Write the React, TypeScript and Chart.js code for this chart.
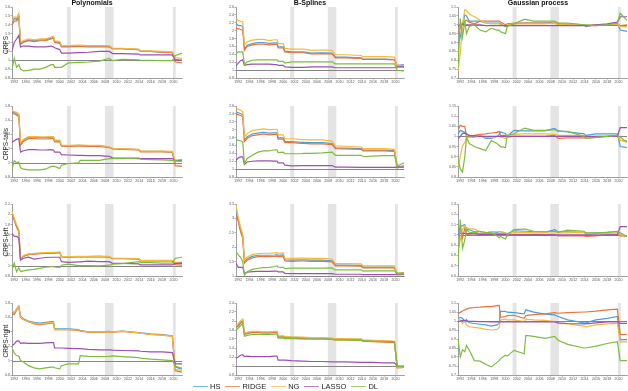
import React, { useEffect, useRef } from "react";
import { Chart, registerables } from "chart.js";
Chart.register(...registerables);

// ---------- shared axes data ----------
const years = [1991.6, 1992.0, 1992.4, 1992.8, 1993.1, 1993.6, 1994.5, 1995.5, 1996.5, 1997.5, 1998.5, 1998.9, 1999.1, 2000.0, 2000.3, 2001.5, 2003.3, 2003.6, 2005, 2007, 2008.7, 2009.3, 2011, 2013.9, 2014.2, 2016, 2018, 2019.8, 2020.3, 2021.5];
const xTickYears = [1992, 1994, 1996, 1998, 2000, 2002, 2004, 2006, 2008, 2010, 2012, 2014, 2016, 2018, 2020];
const recessions = [[2001.25, 2001.95], [2007.95, 2009.45], [2019.9, 2020.4]];
const seriesNames = ["HS", "RIDGE", "NG", "LASSO", "DL"];
const seriesColors = ["#4a9fd8", "#e8733e", "#f1bb3c", "#9b51b0", "#7dbd3e"];
const methods = ["Polynomials", "B-Splines", "Gaussian process"];
const metrics = ["CRPS", "CRPS-tails", "CRPS-left", "CRPS-right"];

// ---------- y tick labels ----------
const yTicksPolyCrps = [0.8, 0.9, 1, 1.1, 1.2, 1.3, 1.4, 1.5, 1.6];
const yTicksSplCrps = [0.8, 1, 1.2, 1.4, 1.6, 1.8, 2, 2.2, 2.4, 2.6];
const yTicksGpCrps = [0.7, 0.75, 0.8, 0.85, 0.9, 0.95, 1, 1.05, 1.1];
const yTicksPolyTails = [0.8, 1, 1.2, 1.4, 1.6, 1.8];
const yTicksSplTails = [0.8, 1, 1.2, 1.4, 1.6, 1.8, 2, 2.2, 2.4, 2.6];
const yTicksGpTails = [0.8, 0.85, 0.9, 0.95, 1, 1.05, 1.1, 1.15];
const yTicksPolyLeft = [0.8, 1, 1.2, 1.4, 1.6, 1.8, 2, 2.2];
const yTicksSplLeft = [1, 1.5, 2, 2.5, 3, 3.5];
const yTicksGpLeft = [0.6, 0.7, 0.8, 0.9, 1, 1.1, 1.2, 1.3];
const yTicksPolyRight = [0.8, 1, 1.2, 1.4, 1.6, 1.8];
const yTicksSplRight = [0.8, 1, 1.2, 1.4, 1.6, 1.8, 2, 2.2, 2.4];
const yTicksGpRight = [0.7, 0.75, 0.8, 0.85, 0.9, 0.95, 1, 1.05, 1.1];

// ---------- CRPS ----------
const polyCrpsHS = [1.42, 1.47, 1.46, 1.50, 1.19, 1.21, 1.23, 1.22, 1.23, 1.23, 1.25, 1.26, 1.21, 1.20, 1.16, 1.16, 1.16, 1.16, 1.16, 1.16, 1.16, 1.13, 1.13, 1.12, 1.10, 1.10, 1.09, 1.09, 1.01, 1.00];
const polyCrpsRidge = [1.40, 1.44, 1.44, 1.48, 1.18, 1.20, 1.22, 1.21, 1.22, 1.22, 1.24, 1.25, 1.20, 1.19, 1.15, 1.15, 1.155, 1.155, 1.15, 1.15, 1.15, 1.13, 1.13, 1.12, 1.10, 1.10, 1.09, 1.085, 0.98, 0.97];
const polyCrpsNG = [1.44, 1.49, 1.48, 1.53, 1.20, 1.22, 1.24, 1.23, 1.24, 1.24, 1.26, 1.27, 1.22, 1.21, 1.165, 1.165, 1.17, 1.17, 1.165, 1.165, 1.165, 1.135, 1.135, 1.125, 1.105, 1.105, 1.10, 1.095, 1.03, 1.02];
const polyCrpsLasso = [1.11, 1.20, 1.24, 1.28, 1.15, 1.16, 1.16, 1.15, 1.15, 1.15, 1.16, 1.15, 1.14, 1.12, 1.08, 1.08, 1.085, 1.085, 1.09, 1.10, 1.10, 1.075, 1.075, 1.07, 1.06, 1.06, 1.06, 1.06, 1.0, 1.0];
const polyCrpsDL = [0.90, 1.02, 0.92, 0.95, 0.90, 0.88, 0.885, 0.90, 0.90, 0.92, 0.95, 0.95, 0.92, 0.92, 0.92, 0.97, 0.975, 0.975, 0.98, 0.99, 1.02, 0.995, 1.01, 1.005, 1.0, 1.0, 0.995, 0.995, 1.05, 1.08];

const splCrpsHS = [2.18, 2.13, 2.13, 2.11, 1.54, 1.63, 1.67, 1.70, 1.70, 1.68, 1.69, 1.69, 1.59, 1.59, 1.48, 1.46, 1.46, 1.46, 1.43, 1.44, 1.43, 1.33, 1.33, 1.31, 1.28, 1.28, 1.28, 1.27, 1.12, 1.14];
const splCrpsRidge = [2.05, 2.05, 2.03, 2.01, 1.50, 1.60, 1.64, 1.66, 1.66, 1.64, 1.65, 1.65, 1.56, 1.56, 1.46, 1.44, 1.44, 1.44, 1.41, 1.42, 1.41, 1.31, 1.31, 1.30, 1.27, 1.27, 1.27, 1.26, 1.09, 1.09];
const splCrpsNG = [2.30, 2.26, 2.24, 2.22, 1.63, 1.72, 1.76, 1.78, 1.78, 1.75, 1.77, 1.77, 1.67, 1.67, 1.55, 1.53, 1.53, 1.53, 1.50, 1.51, 1.50, 1.39, 1.39, 1.37, 1.34, 1.34, 1.34, 1.33, 1.10, 1.12];
const splCrpsLasso = [1.10, 1.18, 1.24, 1.26, 1.12, 1.14, 1.15, 1.15, 1.15, 1.15, 1.14, 1.14, 1.12, 1.12, 1.08, 1.07, 1.07, 1.07, 1.08, 1.08, 1.08, 1.06, 1.06, 1.06, 1.06, 1.06, 1.06, 1.06, 1.08, 1.08];
const splCrpsDL = [1.42, 1.46, 1.46, 1.46, 1.14, 1.21, 1.25, 1.26, 1.26, 1.26, 1.26, 1.26, 1.22, 1.22, 1.18, 1.21, 1.21, 1.21, 1.21, 1.21, 1.21, 1.16, 1.16, 1.16, 1.16, 1.16, 1.16, 1.16, 0.99, 0.98];

const gpCrpsHS = [0.88, 0.93, 1.0, 1.055, 1.05, 1.02, 1.02, 1.02, 1.01, 1.01, 1.01, 1.01, 1.005, 0.99, 0.995, 1.005, 1.01, 1.01, 1.01, 1.01, 1.015, 1.005, 1.005, 1.0, 0.99, 1.0, 1.0, 1.01, 0.97, 0.963];
const gpCrpsRidge = [0.95, 0.98, 1.0, 1.02, 1.025, 1.015, 1.005, 1.02, 1.02, 1.02, 1.02, 1.02, 1.015, 1.0, 1.005, 1.01, 1.01, 1.01, 1.01, 1.01, 1.01, 1.0, 1.0, 1.0, 0.995, 0.995, 1.0, 1.005, 0.995, 1.0];
const gpCrpsNG = [0.74, 0.84, 1.0, 1.085, 1.08, 1.06, 1.045, 1.025, 1.01, 1.005, 1.005, 1.005, 1.0, 0.995, 1.0, 1.005, 1.005, 1.005, 1.005, 1.005, 1.01, 1.0, 1.005, 1.0, 0.995, 1.0, 1.0, 1.005, 0.99, 0.99];
const gpCrpsLasso = [0.99, 1.0, 1.005, 1.0, 1.0, 1.0, 1.0, 1.0, 0.995, 0.995, 0.995, 0.995, 0.995, 0.995, 0.995, 0.995, 0.995, 0.995, 0.995, 0.995, 0.995, 0.995, 0.995, 0.995, 0.995, 1.0, 1.005, 1.015, 1.045, 1.045];
const gpCrpsDL = [0.76, 1.035, 0.93, 1.02, 0.95, 0.99, 1.0, 0.97, 0.96, 0.98, 0.97, 0.97, 0.96, 0.95, 0.99, 1.005, 1.03, 1.03, 1.02, 1.02, 1.02, 1.01, 1.01, 1.0, 1.0, 0.995, 1.0, 1.01, 1.065, 1.025];

// ---------- CRPS-tails ----------
const polyTailsHS = [1.72, 1.71, 1.69, 1.67, 1.27, 1.32, 1.36, 1.36, 1.355, 1.355, 1.36, 1.36, 1.31, 1.31, 1.245, 1.24, 1.245, 1.245, 1.24, 1.24, 1.22, 1.20, 1.195, 1.185, 1.16, 1.16, 1.16, 1.155, 0.99, 0.99];
const polyTailsRidge = [1.70, 1.69, 1.67, 1.65, 1.25, 1.30, 1.34, 1.34, 1.335, 1.335, 1.34, 1.34, 1.295, 1.295, 1.235, 1.23, 1.235, 1.235, 1.23, 1.23, 1.215, 1.195, 1.19, 1.18, 1.155, 1.155, 1.155, 1.15, 0.96, 0.95];
const polyTailsNG = [1.74, 1.72, 1.71, 1.69, 1.28, 1.33, 1.37, 1.37, 1.365, 1.365, 1.37, 1.37, 1.32, 1.32, 1.25, 1.245, 1.25, 1.25, 1.245, 1.245, 1.225, 1.205, 1.20, 1.19, 1.165, 1.165, 1.165, 1.16, 1.02, 1.02];
const polyTailsLasso = [1.29, 1.31, 1.33, 1.34, 1.15, 1.17, 1.185, 1.185, 1.18, 1.18, 1.185, 1.18, 1.15, 1.15, 1.115, 1.11, 1.105, 1.105, 1.10, 1.10, 1.09, 1.07, 1.065, 1.06, 1.06, 1.06, 1.06, 1.06, 1.03, 1.03];
const polyTailsDL = [0.91, 1.03, 1.0, 1.01, 0.93, 0.91, 0.90, 0.90, 0.90, 0.91, 0.95, 0.95, 0.95, 0.92, 0.965, 0.99, 1.0, 1.035, 1.035, 1.035, 1.06, 1.06, 1.06, 1.07, 1.05, 1.045, 1.04, 1.035, 1.035, 1.045];

const splTailsHS = [2.45, 2.43, 2.41, 2.38, 1.74, 1.82, 1.89, 1.91, 1.93, 1.91, 1.92, 1.92, 1.79, 1.79, 1.70, 1.70, 1.68, 1.68, 1.67, 1.67, 1.65, 1.54, 1.53, 1.52, 1.48, 1.48, 1.48, 1.47, 1.05, 1.08];
const splTailsRidge = [2.40, 2.38, 2.36, 2.33, 1.70, 1.78, 1.85, 1.87, 1.89, 1.87, 1.88, 1.88, 1.76, 1.76, 1.67, 1.67, 1.65, 1.65, 1.64, 1.64, 1.62, 1.52, 1.51, 1.50, 1.46, 1.46, 1.46, 1.45, 1.03, 1.06];
const splTailsNG = [2.53, 2.52, 2.49, 2.46, 1.81, 1.90, 1.98, 2.00, 2.02, 2.00, 2.01, 2.01, 1.87, 1.87, 1.77, 1.77, 1.75, 1.75, 1.74, 1.74, 1.71, 1.59, 1.58, 1.56, 1.52, 1.52, 1.52, 1.50, 1.04, 1.06];
const splTailsLasso = [1.22, 1.28, 1.31, 1.31, 1.12, 1.18, 1.20, 1.21, 1.21, 1.21, 1.20, 1.20, 1.16, 1.16, 1.10, 1.08, 1.09, 1.09, 1.09, 1.09, 1.09, 1.05, 1.05, 1.045, 1.045, 1.045, 1.045, 1.045, 1.05, 1.05];
const splTailsDL = [1.75, 1.73, 1.72, 1.69, 1.14, 1.27, 1.35, 1.43, 1.46, 1.46, 1.49, 1.49, 1.42, 1.43, 1.39, 1.39, 1.39, 1.40, 1.40, 1.41, 1.43, 1.35, 1.35, 1.35, 1.32, 1.33, 1.34, 1.34, 1.08, 1.16];

const gpTailsHS = [1.01, 1.03, 1.025, 1.02, 1.015, 1.0, 0.997, 1.005, 0.99, 0.99, 1.0, 1.01, 1.022, 1.015, 1.0, 1.03, 1.027, 1.027, 1.027, 1.027, 1.04, 1.027, 1.022, 1.013, 1.005, 1.013, 1.013, 1.013, 0.95, 0.945];
const gpTailsRidge = [1.033, 1.055, 1.05, 1.05, 0.997, 1.0, 1.005, 1.01, 1.013, 1.017, 1.02, 1.025, 1.005, 1.005, 0.997, 1.0, 1.0, 1.0, 1.0, 1.0, 1.005, 0.99, 0.993, 0.993, 0.99, 0.995, 1.0, 1.005, 0.98, 0.977];
const gpTailsNG = [0.85, 0.90, 0.955, 0.97, 0.99, 0.995, 0.997, 1.005, 0.997, 0.993, 1.0, 1.0, 0.997, 0.99, 1.005, 1.01, 1.013, 1.013, 1.013, 1.013, 1.01, 1.005, 1.005, 1.005, 0.99, 1.0, 1.0, 1.0, 0.98, 0.98];
const gpTailsLasso = [0.99, 1.0, 1.015, 1.015, 1.012, 1.005, 1.003, 1.0, 1.0, 1.0, 1.0, 1.0, 1.0, 1.0, 1.0, 1.0, 1.0, 1.0, 1.0, 1.0, 1.0, 1.0, 1.0, 1.0, 1.0, 1.0, 1.0, 1.0, 1.043, 1.043];
const gpTailsDL = [0.89, 0.84, 0.825, 0.90, 0.995, 0.965, 0.95, 0.94, 0.93, 0.98, 0.965, 0.955, 0.95, 0.945, 1.005, 1.013, 1.04, 1.04, 1.03, 1.03, 1.033, 1.025, 1.025, 1.0, 0.99, 0.995, 1.0, 1.005, 0.997, 0.97];

// ---------- CRPS-left ----------
const polyLeftHS = [2.02, 1.90, 1.77, 1.68, 1.12, 1.19, 1.22, 1.23, 1.24, 1.245, 1.25, 1.25, 1.25, 1.26, 1.175, 1.17, 1.175, 1.175, 1.175, 1.18, 1.17, 1.14, 1.14, 1.135, 1.10, 1.10, 1.10, 1.10, 1.04, 1.05];
const polyLeftRidge = [2.0, 1.88, 1.75, 1.66, 1.11, 1.18, 1.215, 1.225, 1.235, 1.24, 1.245, 1.245, 1.245, 1.255, 1.17, 1.165, 1.17, 1.17, 1.17, 1.175, 1.165, 1.135, 1.135, 1.13, 1.095, 1.095, 1.095, 1.095, 1.02, 1.01];
const polyLeftNG = [2.05, 1.92, 1.80, 1.70, 1.13, 1.20, 1.23, 1.24, 1.25, 1.255, 1.26, 1.26, 1.26, 1.27, 1.18, 1.175, 1.18, 1.18, 1.18, 1.185, 1.18, 1.145, 1.145, 1.14, 1.105, 1.105, 1.105, 1.105, 1.06, 1.07];
const polyLeftLasso = [1.63, 1.57, 1.57, 1.54, 1.11, 1.145, 1.165, 1.13, 1.145, 1.16, 1.165, 1.165, 1.165, 1.165, 1.08, 1.065, 1.075, 1.075, 1.09, 1.08, 1.08, 1.045, 1.045, 1.035, 1.015, 1.015, 1.015, 1.015, 1.045, 1.05];
const polyLeftDL = [0.92, 1.05, 0.885, 0.96, 0.885, 0.90, 0.92, 0.93, 0.95, 0.97, 0.98, 0.98, 0.975, 0.965, 1.01, 1.03, 1.0, 1.0, 1.0, 0.995, 1.01, 1.03, 1.04, 1.08, 1.06, 1.06, 1.05, 1.05, 1.145, 1.165];

const splLeftHS = [3.2, 2.95, 2.6, 2.35, 1.5, 1.6, 1.68, 1.72, 1.72, 1.72, 1.73, 1.74, 1.72, 1.73, 1.56, 1.55, 1.56, 1.56, 1.55, 1.55, 1.53, 1.38, 1.38, 1.37, 1.31, 1.31, 1.31, 1.31, 1.05, 1.07];
const splLeftRidge = [3.1, 2.9, 2.55, 2.3, 1.45, 1.55, 1.63, 1.67, 1.67, 1.67, 1.68, 1.69, 1.67, 1.68, 1.52, 1.51, 1.52, 1.52, 1.51, 1.51, 1.49, 1.35, 1.35, 1.34, 1.28, 1.28, 1.28, 1.28, 1.04, 1.05];
const splLeftNG = [3.45, 3.05, 2.7, 2.45, 1.55, 1.66, 1.74, 1.78, 1.79, 1.79, 1.80, 1.81, 1.79, 1.80, 1.62, 1.61, 1.62, 1.62, 1.61, 1.61, 1.59, 1.43, 1.43, 1.42, 1.35, 1.35, 1.35, 1.35, 1.06, 1.08];
const splLeftLasso = [1.44, 1.3, 1.3, 1.3, 1.09, 1.13, 1.15, 1.16, 1.16, 1.16, 1.17, 1.17, 1.14, 1.14, 1.09, 1.08, 1.08, 1.08, 1.08, 1.08, 1.08, 1.06, 1.06, 1.06, 1.05, 1.05, 1.05, 1.05, 1.07, 1.07];
const splLeftDL = [1.85, 1.73, 1.65, 1.5, 1.03, 1.15, 1.23, 1.27, 1.29, 1.30, 1.33, 1.35, 1.31, 1.30, 1.26, 1.27, 1.27, 1.27, 1.27, 1.27, 1.28, 1.21, 1.21, 1.21, 1.17, 1.18, 1.18, 1.18, 1.1, 1.12];

const gpLeftHS = [1.015, 1.08, 1.09, 1.10, 1.055, 1.05, 1.03, 1.03, 1.02, 1.03, 1.025, 1.03, 1.03, 1.02, 1.01, 1.04, 1.035, 1.035, 1.03, 1.025, 1.05, 1.03, 1.03, 1.025, 1.015, 1.02, 1.025, 1.03, 1.0, 0.985];
const gpLeftRidge = [1.05, 1.065, 0.97, 1.065, 1.0, 1.01, 1.015, 1.01, 1.01, 1.01, 1.01, 1.01, 1.01, 1.01, 0.99, 1.005, 1.005, 1.005, 1.005, 1.005, 1.005, 0.99, 0.99, 0.99, 0.985, 0.99, 1.0, 1.005, 0.99, 0.99];
const gpLeftNG = [0.85, 0.95, 1.05, 1.09, 1.07, 1.06, 1.055, 1.03, 1.02, 1.03, 1.03, 1.03, 1.03, 1.02, 1.0, 1.025, 1.025, 1.025, 1.02, 1.025, 1.03, 1.02, 1.02, 1.025, 1.01, 1.015, 1.015, 1.02, 1.0, 0.99];
const gpLeftLasso = [1.0, 1.015, 1.015, 1.015, 1.015, 1.01, 1.01, 1.005, 1.005, 1.005, 1.005, 1.005, 1.005, 1.005, 1.0, 1.0, 1.0, 1.0, 1.0, 1.0, 1.0, 1.0, 1.0, 1.0, 1.0, 1.0, 1.0, 1.0, 1.08, 1.08];
const gpLeftDL = [0.72, 1.15, 0.87, 0.95, 1.05, 1.025, 1.02, 1.035, 1.025, 1.02, 0.99, 0.97, 0.985, 0.96, 1.0, 1.05, 1.055, 1.055, 1.035, 1.03, 1.035, 1.025, 1.045, 1.035, 1.02, 1.02, 1.025, 1.035, 1.02, 0.985];

// ---------- CRPS-right ----------
const polyRightHS = [1.67, 1.66, 1.72, 1.76, 1.62, 1.58, 1.55, 1.53, 1.52, 1.53, 1.54, 1.54, 1.44, 1.44, 1.44, 1.44, 1.43, 1.42, 1.40, 1.40, 1.405, 1.40, 1.41, 1.39, 1.385, 1.37, 1.36, 1.345, 0.91, 0.88];
const polyRightRidge = [1.65, 1.64, 1.70, 1.74, 1.60, 1.57, 1.54, 1.51, 1.50, 1.51, 1.52, 1.52, 1.43, 1.43, 1.43, 1.43, 1.42, 1.41, 1.395, 1.395, 1.40, 1.395, 1.405, 1.385, 1.38, 1.365, 1.355, 1.34, 0.86, 0.84];
const polyRightNG = [1.69, 1.67, 1.71, 1.75, 1.61, 1.57, 1.54, 1.52, 1.51, 1.52, 1.53, 1.53, 1.43, 1.43, 1.43, 1.43, 1.425, 1.415, 1.40, 1.40, 1.40, 1.40, 1.41, 1.385, 1.38, 1.365, 1.355, 1.34, 0.88, 0.86];
const polyRightLasso = [1.21, 1.23, 1.27, 1.275, 1.24, 1.245, 1.24, 1.24, 1.24, 1.245, 1.25, 1.25, 1.175, 1.175, 1.175, 1.17, 1.165, 1.165, 1.155, 1.15, 1.15, 1.145, 1.14, 1.135, 1.13, 1.12, 1.12, 1.11, 0.955, 0.955];
const polyRightDL = [1.17, 1.105, 1.07, 1.06, 1.0, 0.98, 0.93, 0.90, 0.885, 0.90, 0.91, 0.91, 0.90, 0.885, 0.93, 0.955, 0.955, 1.07, 1.06, 1.055, 1.06, 1.065, 1.055, 1.04, 1.035, 1.02, 1.01, 1.0, 0.92, 0.895];

const splRightHS = [1.88, 1.92, 1.98, 2.02, 1.72, 1.74, 1.76, 1.76, 1.75, 1.75, 1.76, 1.76, 1.66, 1.66, 1.65, 1.64, 1.63, 1.63, 1.62, 1.62, 1.61, 1.60, 1.60, 1.59, 1.57, 1.56, 1.55, 1.54, 0.97, 0.98];
const splRightRidge = [1.85, 1.89, 1.95, 1.99, 1.70, 1.72, 1.74, 1.74, 1.73, 1.73, 1.74, 1.74, 1.64, 1.64, 1.63, 1.62, 1.61, 1.61, 1.60, 1.60, 1.59, 1.58, 1.58, 1.57, 1.55, 1.54, 1.53, 1.52, 0.96, 0.97];
const splRightNG = [1.90, 1.94, 2.0, 2.04, 1.73, 1.75, 1.77, 1.77, 1.76, 1.76, 1.77, 1.77, 1.67, 1.67, 1.66, 1.65, 1.64, 1.64, 1.63, 1.63, 1.62, 1.61, 1.61, 1.60, 1.58, 1.57, 1.56, 1.55, 0.96, 0.97];
const splRightLasso = [1.18, 1.2, 1.24, 1.25, 1.21, 1.22, 1.21, 1.21, 1.21, 1.21, 1.22, 1.22, 1.13, 1.13, 1.13, 1.12, 1.11, 1.11, 1.10, 1.10, 1.09, 1.09, 1.09, 1.08, 1.08, 1.08, 1.07, 1.07, 1.0, 1.0];
const splRightDL = [1.80, 1.84, 1.90, 1.94, 1.66, 1.68, 1.70, 1.70, 1.70, 1.70, 1.71, 1.71, 1.62, 1.62, 1.61, 1.61, 1.60, 1.60, 1.60, 1.60, 1.59, 1.58, 1.58, 1.57, 1.56, 1.55, 1.55, 1.54, 0.99, 0.98];

const gpRightHS = [1.015, 1.02, 1.015, 0.995, 1.008, 0.99, 0.986, 0.982, 0.978, 0.972, 0.978, 0.986, 1.053, 1.053, 1.049, 1.047, 1.04, 1.062, 1.049, 1.038, 1.034, 1.025, 1.006, 0.99, 0.99, 1.006, 1.015, 1.025, 0.897, 0.897];
const gpRightRidge = [1.04, 1.048, 1.055, 1.062, 1.066, 1.072, 1.075, 1.077, 1.08, 1.08, 1.085, 1.087, 1.02, 1.025, 1.03, 1.032, 1.015, 1.03, 1.035, 1.04, 1.047, 1.043, 1.047, 1.05, 1.05, 1.055, 1.062, 1.066, 0.925, 0.925];
const gpRightNG = [1.01, 1.006, 0.985, 1.003, 0.978, 0.968, 0.965, 0.96, 0.953, 0.95, 0.953, 0.965, 1.006, 1.01, 1.006, 1.006, 0.997, 1.01, 1.006, 1.003, 0.997, 0.987, 0.984, 0.972, 0.968, 0.978, 0.984, 0.987, 0.884, 0.884];
const gpRightLasso = [0.995, 1.0, 1.003, 1.003, 1.0, 0.998, 0.998, 0.996, 0.996, 0.995, 0.995, 0.995, 0.995, 0.995, 0.995, 0.995, 0.995, 0.995, 0.995, 0.995, 0.995, 0.99, 0.986, 0.984, 0.984, 0.99, 0.995, 0.995, 0.987, 0.987];
const gpRightDL = [0.903, 0.80, 0.84, 0.83, 0.865, 0.837, 0.78, 0.777, 0.76, 0.745, 0.77, 0.78, 0.79, 0.81, 0.805, 0.837, 0.818, 0.92, 0.915, 0.903, 0.915, 0.893, 0.87, 0.85, 0.85, 0.86, 0.875, 0.885, 0.78, 0.78];

// ---------- panel table (rows = metrics, cols = methods) ----------
const panelSeries = [
  [[polyCrpsHS, polyCrpsRidge, polyCrpsNG, polyCrpsLasso, polyCrpsDL], [splCrpsHS, splCrpsRidge, splCrpsNG, splCrpsLasso, splCrpsDL], [gpCrpsHS, gpCrpsRidge, gpCrpsNG, gpCrpsLasso, gpCrpsDL]],
  [[polyTailsHS, polyTailsRidge, polyTailsNG, polyTailsLasso, polyTailsDL], [splTailsHS, splTailsRidge, splTailsNG, splTailsLasso, splTailsDL], [gpTailsHS, gpTailsRidge, gpTailsNG, gpTailsLasso, gpTailsDL]],
  [[polyLeftHS, polyLeftRidge, polyLeftNG, polyLeftLasso, polyLeftDL], [splLeftHS, splLeftRidge, splLeftNG, splLeftLasso, splLeftDL], [gpLeftHS, gpLeftRidge, gpLeftNG, gpLeftLasso, gpLeftDL]],
  [[polyRightHS, polyRightRidge, polyRightNG, polyRightLasso, polyRightDL], [splRightHS, splRightRidge, splRightNG, splRightLasso, splRightDL], [gpRightHS, gpRightRidge, gpRightNG, gpRightLasso, gpRightDL]],
];
const panelYTicks = [
  [yTicksPolyCrps, yTicksSplCrps, yTicksGpCrps],
  [yTicksPolyTails, yTicksSplTails, yTicksGpTails],
  [yTicksPolyLeft, yTicksSplLeft, yTicksGpLeft],
  [yTicksPolyRight, yTicksSplRight, yTicksGpRight],
];

// ---------- layout ----------
const colLeft = [12, 236, 458];
const colRight = [182, 404, 627];
const rowTop = [7, 106, 204, 303];
const rowBottom = [78, 177, 276, 375];
const YW = 12;
const XH = 8;
const TP = 4;
const RP = 1;
const X_MIN = 1991.6;
const X_MAX = 2021.5;
const FONT = "'Liberation Sans', Arial, Helvetica, sans-serif";

const bgPlugin = {
  id: "recessionBands",
  beforeDatasetsDraw(chart: any) {
    const { ctx, chartArea, scales } = chart;
    const { top, bottom, left, right } = chartArea;
    const x = scales.x;
    const y = scales.y;
    ctx.save();
    ctx.fillStyle = "#e4e4e4";
    for (const [a, b] of recessions) {
      const xa = x.getPixelForValue(a);
      const xb = x.getPixelForValue(b);
      ctx.fillRect(xa, top, xb - xa, bottom - top);
    }
    const y1 = Math.round(y.getPixelForValue(1)) + 0.5;
    ctx.strokeStyle = "#858585";
    ctx.lineWidth = 1;
    ctx.beginPath();
    ctx.moveTo(left, y1);
    ctx.lineTo(right, y1);
    ctx.stroke();
    ctx.restore();
  },
};

function Panel({ row, col }: { row: number; col: number }) {
  const ref = useRef<HTMLCanvasElement>(null);
  const plotW = colRight[col] - colLeft[col];
  const plotH = rowBottom[row] - rowTop[row];
  const width = YW + plotW + RP;
  const height = TP + plotH + XH;
  useEffect(() => {
    const series = panelSeries[row][col];
    const yTicks = panelYTicks[row][col];
    const chart = new Chart(ref.current as HTMLCanvasElement, {
      type: "line",
      data: {
        datasets: series.map((vals: number[], i: number) => ({
          label: seriesNames[i],
          data: years.map((yr, k) => ({ x: yr, y: vals[k] })),
          borderColor: seriesColors[i],
          backgroundColor: seriesColors[i],
          borderWidth: 1.2,
          pointRadius: 0,
          tension: 0,
          fill: false,
          order: 4 - i,
        })),
      },
      options: {
        animation: false,
        responsive: false,
        maintainAspectRatio: false,
        events: [],
        layout: { padding: { top: TP, right: RP, left: 0, bottom: 0 }, autoPadding: false },
        plugins: { legend: { display: false }, tooltip: { enabled: false }, title: { display: false } },
        scales: {
          x: {
            type: "linear",
            min: X_MIN,
            max: X_MAX,
            afterBuildTicks: (s: any) => {
              s.ticks = xTickYears.map((v) => ({ value: v }));
            },
            afterFit: (s: any) => {
              s.height = XH;
            },
            ticks: {
              autoSkip: false,
              maxRotation: 0,
              padding: 0.5,
              color: "#555",
              font: { size: 3.6, family: FONT },
              callback: (v: any) => String(v),
            },
            grid: { display: true, drawOnChartArea: false, drawTicks: true, tickLength: 1.5, color: "#777", lineWidth: 0.6 },
            border: { display: true, color: "#777", width: 0.7 },
          },
          y: {
            type: "linear",
            min: yTicks[0],
            max: yTicks[yTicks.length - 1],
            afterBuildTicks: (s: any) => {
              s.ticks = yTicks.map((v) => ({ value: v }));
            },
            afterFit: (s: any) => {
              s.width = YW;
            },
            ticks: {
              autoSkip: false,
              padding: 0.5,
              color: "#555",
              font: { size: 3.6, family: FONT },
              callback: (v: any) => String(Math.round(Number(v) * 1000) / 1000),
            },
            grid: { display: true, drawOnChartArea: false, drawTicks: true, tickLength: 1.5, color: "#777", lineWidth: 0.6 },
            border: { display: true, color: "#777", width: 0.7 },
          },
        },
      },
      plugins: [bgPlugin],
    } as any);
    return () => chart.destroy();
  }, [row, col]);
  return (
    <canvas
      ref={ref}
      width={width}
      height={height}
      style={{ position: "absolute", left: colLeft[col] - YW, top: rowTop[row] - TP, width, height }}
    />
  );
}

const titleCenters = [92, 310, 538];

export default function App() {
  const cells: any[] = [];
  for (let r = 0; r < 4; r++) for (let c = 0; c < 3; c++) cells.push(<Panel key={`${r}-${c}`} row={r} col={c} />);
  return (
    <div style={{ position: "absolute", left: 0, top: 0, width: 628, height: 391, background: "#fff", overflow: "hidden", fontFamily: FONT }}>
      {cells}
      {methods.map((m, c) => (
        <div
          key={m}
          style={{ position: "absolute", left: titleCenters[c], top: -1, transform: "translateX(-50%)", fontSize: 7, fontWeight: "bold", lineHeight: "8px", whiteSpace: "nowrap", color: "#111" }}
        >
          {m}
        </div>
      ))}
      {metrics.map((m, r) => (
        <div
          key={m}
          style={{ position: "absolute", left: 4.5, top: (rowTop[r] + rowBottom[r]) / 2 + 2, transform: "translate(-50%, -50%) rotate(-90deg)", fontSize: 6.5, lineHeight: "7px", whiteSpace: "nowrap", color: "#222" }}
        >
          {m}
        </div>
      ))}
      <div style={{ position: "absolute", left: 193, top: 382, display: "flex", alignItems: "center", fontSize: 7.5, lineHeight: "9px", color: "#222" }}>
        {seriesNames.map((n, i) => (
          <div key={n} style={{ display: "flex", alignItems: "center", marginRight: 5 }}>
            <div style={{ width: 15, height: 0, borderTop: `1.5px solid ${seriesColors[i]}`, marginRight: 2, opacity: 0.75 }} />
            <span>{n}</span>
          </div>
        ))}
      </div>
    </div>
  );
}
